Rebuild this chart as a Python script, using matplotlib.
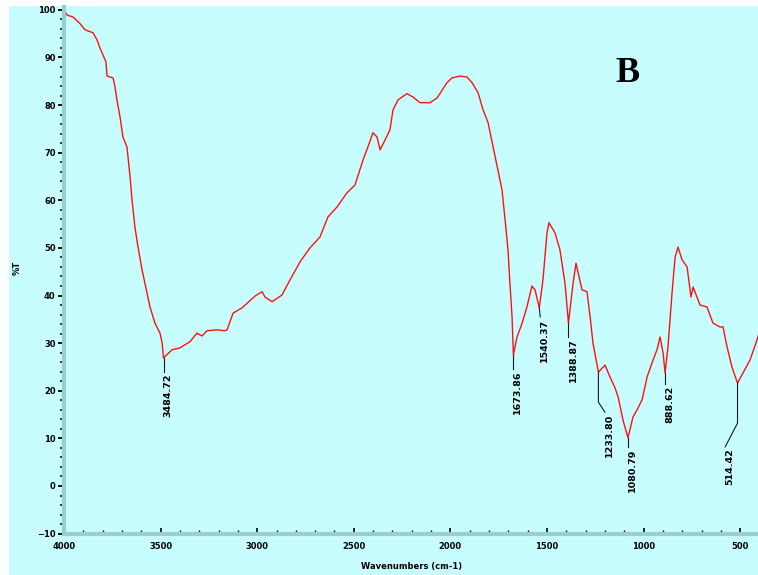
import numpy as np
import matplotlib
matplotlib.use("Agg")
import matplotlib.pyplot as plt
from matplotlib.ticker import MultipleLocator
from matplotlib.patches import Rectangle

# IR spectrum: wavenumber (cm-1) and %T
wn = [4000, 3984, 3953, 3917, 3891, 3850, 3829, 3814, 3798, 3783, 3777, 3746,
      3736, 3726, 3710, 3695, 3674, 3658, 3648, 3633, 3617, 3596, 3570, 3555,
      3529, 3503, 3492, 3485, 3441, 3400, 3348, 3312, 3286, 3260, 3208, 3167,
      3156, 3125, 3079, 3011, 2975, 2960, 2923, 2872, 2830, 2778, 2727, 2675,
      2634, 2587, 2535, 2494, 2452, 2427, 2401, 2380, 2364, 2338, 2313, 2297,
      2271, 2225, 2194, 2157, 2106, 2069, 2018, 1992, 1950, 1914, 1888, 1857,
      1831, 1805, 1779, 1754, 1733, 1717, 1702, 1692, 1681, 1674, 1655, 1629,
      1604, 1578, 1562, 1540, 1521, 1500, 1490, 1459, 1433, 1407, 1389, 1365,
      1350, 1319, 1293, 1277, 1262, 1234, 1200, 1174, 1148, 1132, 1107, 1081,
      1055, 1034, 1008, 982, 957, 931, 915, 899, 889, 874, 853, 837, 822, 801,
      775, 755, 744, 708, 672, 641, 605, 589, 568, 543, 514, 486, 449, 413, 398]
trans = [100.2, 98.9, 98.5, 97.1, 95.8, 95.2, 93.7, 92.0, 90.5, 89.1, 86.1, 85.7,
         83.8, 81.1, 77.5, 73.3, 71.2, 64.9, 60.1, 54.4, 50.2, 45.4, 40.5, 37.6,
         34.2, 32.1, 30.0, 26.9, 28.6, 29.0, 30.3, 32.1, 31.5, 32.6, 32.8, 32.6,
         32.8, 36.3, 37.4, 39.9, 40.8, 39.7, 38.7, 40.1, 43.3, 47.1, 50.0, 52.3,
         56.5, 58.6, 61.6, 63.2, 68.5, 71.2, 74.2, 73.3, 70.6, 72.7, 74.8, 79.0,
         81.1, 82.4, 81.7, 80.5, 80.5, 81.5, 84.7, 85.7, 86.1, 85.9, 84.7, 82.6,
         79.0, 76.3, 71.2, 66.4, 62.2, 55.9, 49.6, 42.6, 35.5, 27.5, 31.3, 34.2,
         37.6, 42.0, 41.2, 37.4, 43.3, 53.2, 55.3, 53.2, 49.6, 42.6, 34.2, 42.6,
         46.8, 41.2, 40.8, 35.5, 30.0, 23.9, 25.4, 22.9, 20.6, 18.7, 13.9, 10.1,
         14.5, 16.0, 18.1, 22.9, 25.8, 28.6, 31.3, 27.9, 23.7, 29.2, 40.5, 48.1,
         50.2, 47.5, 46.0, 39.7, 41.8, 38.0, 37.6, 34.2, 33.4, 33.4, 29.2, 25.0,
         21.6, 23.7, 26.5, 30.7, 32.8]

# peak labels
peak_lbl = ["3484.72", "1673.86", "1540.37", "1388.87", "1233.80",
            "1080.79", "888.62", "514.42"]
peak_wn = [3485, 1674, 1540, 1389, 1234, 1081, 889, 514]
peak_t = [26.9, 27.5, 37.4, 34.2, 23.9, 10.1, 23.7, 21.6]
# leader lines: list of (wn, %T) vertices after the peak
leaders = [[(3485, 24.0)], [(1674, 24.6)], [(1535, 35.5)], [(1389, 31.3)],
           [(1234, 17.6), (1200, 15.5)], [(1081, 8.2)], [(889, 21.4)],
           [(514, 13.2), (578, 8.2)]]

bg = "#C8FDFF"
bar = "#9CCDCD"

fig = plt.figure(figsize=(7.58, 5.75), dpi=100)
fig.patch.set_facecolor("white")
fig.patches.append(Rectangle((9 / 758, 0), 1, 1 - 6 / 575, transform=fig.transFigure,
                             facecolor=bg, edgecolor="none", zorder=-10))

ax = fig.add_axes([64 / 758, 41.4 / 575, 694 / 758, 526.6 / 575])
ax.set_facecolor(bg)
ax.plot(wn, trans, color="#FF1010", lw=1.0)

for lbl, x0, y0, pts in zip(peak_lbl, peak_wn, peak_t, leaders):
    xs = [x0] + [p[0] for p in pts]
    ys = [y0] + [p[1] for p in pts]
    ax.plot(xs, ys, color="#1a1a1a", lw=0.8)
    ax.text(xs[-1], ys[-1] - 0.3, lbl, rotation=90, ha="left", va="top",
            fontsize=6.8, fontweight="bold")

ax.set_xlim(4000, 408)
ax.set_ylim(-10, 100.6)
ax.xaxis.set_major_locator(MultipleLocator(500))
ax.xaxis.set_minor_locator(MultipleLocator(100))
ax.yaxis.set_major_locator(MultipleLocator(10))
ax.yaxis.set_minor_locator(MultipleLocator(2))

for s in ["top", "right"]:
    ax.spines[s].set_visible(False)
for s in ["left", "bottom"]:
    ax.spines[s].set_color(bar)
    ax.spines[s].set_linewidth(3.0)

ax.tick_params(axis="y", which="major", direction="out", length=4, width=1.3,
               pad=2, labelsize=6)
ax.tick_params(axis="y", which="minor", direction="out", length=3, width=1.1)
ax.tick_params(axis="x", which="major", direction="in", length=4, width=1.2,
               pad=6, labelsize=6)
ax.tick_params(axis="x", which="minor", direction="in", length=3, width=1.0)
for t in ax.get_xticklabels() + ax.get_yticklabels():
    t.set_fontweight("bold")

fig.text(17 / 758, 1 - 268 / 575, "%T", rotation=90, ha="center", va="center",
         fontsize=6, fontweight="bold")
fig.text(412 / 758, 1 - 567 / 575, "Wavenumbers (cm-1)", ha="center", va="center",
         fontsize=6, fontweight="bold")
fig.text(628 / 758, 1 - 73 / 575, "B", ha="center", va="center", fontsize=26,
         fontweight="bold", family="Liberation Serif")

fig.savefig("out.png", dpi=100, facecolor=fig.get_facecolor())
